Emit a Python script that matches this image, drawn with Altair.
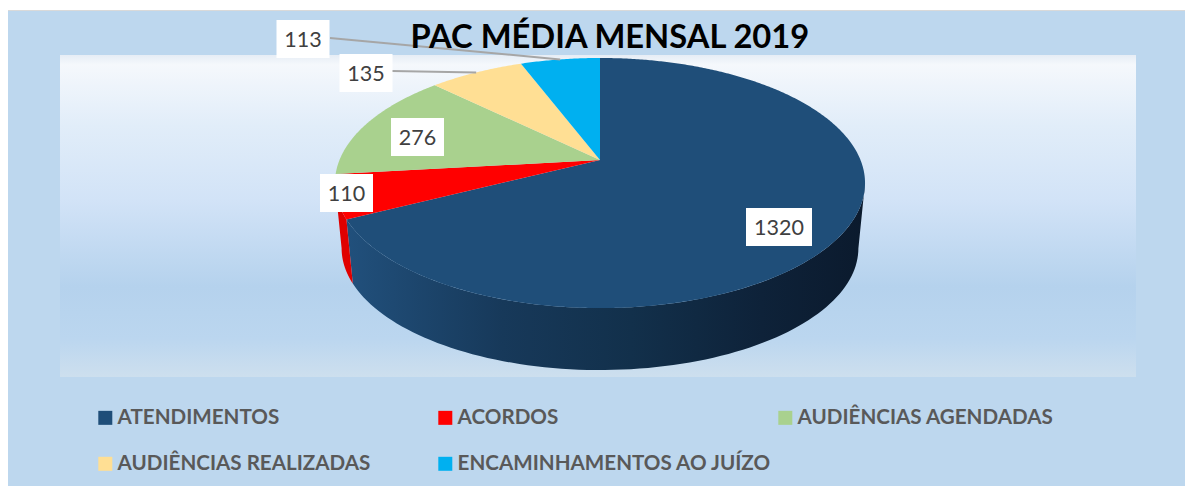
import numpy as np
import pandas as pd
import altair as alt

# ---- chart values
categories = ["ATENDIMENTOS", "ACORDOS", "AUDIÊNCIAS AGENDADAS", "AUDIÊNCIAS REALIZADAS", "ENCAMINHAMENTOS AO JUÍZO"]
values = [1320, 110, 276, 135, 113]
colors = ["#1f4e79", "#ff0000", "#a9d18e", "#ffdf94", "#00b0f0"]
legend_order = [0, 3, 1, 4, 2]      # the legend fills column by column
title_text = "PAC MÉDIA MENSAL 2019"

# ---- layout (page pixels)
RIGHT = 1185
CX, CY = 600, 160
AX, BY, K = 260.5, 120.8, 0.184     # pie perspective
SHRINK, DEPTH = 0.975, 65.7         # lower rim of the pie
label_x = [779, 346.5, 417.5, 366, 303]
label_y = [227, 193, 137, 73, 39]
label_w = [66, 53, 53, 53, 53]
label_h = 38
leader_from_x = [None, None, None, 392, 330]
leader_from_y = [None, None, None, 71, 38]


def project(theta, lower=False):
    t = np.radians(theta)
    X, Y = np.sin(t), np.cos(t)
    px, py = AX * X / (1 + K * Y), -BY * Y / (1 + K * Y)
    if lower:
        return CX + SHRINK * px, CY + SHRINK * py + DEPTH
    return CX + px, CY + py


total = sum(values)
ends = np.cumsum(values) / total * 360
starts = np.r_[0, ends[:-1]]

# top face
rows = []
for c, a, b in zip(categories, starts, ends):
    rows.append({"serie": c, "seq": -1, "px": CX, "py": CY})
    for i, th in enumerate(np.linspace(a, b, max(int(b - a), 2) * 2 + 1)):
        x, y = project(th)
        rows.append({"serie": c, "seq": i, "px": x, "py": y})
top_df = pd.DataFrame(rows)

# visible outer wall between the two silhouette angles
th_r = np.degrees(np.arccos(-K))
th_l = 360 - th_r


def wall(a, b):
    a, b = max(a, th_r), min(b, th_l)
    ths = np.linspace(a, b, 90)
    up = [project(t) for t in ths]
    lo = [project(t, True) for t in ths[::-1]]
    pts = up + lo
    return pd.DataFrame({"seq": range(len(pts)), "px": [p[0] for p in pts], "py": [p[1] for p in pts]})


wall_navy = wall(starts[0], ends[0])
wall_red = wall(starts[1], ends[1])

x_s = alt.Scale(domain=[8, RIGHT], range=[0, RIGHT - 8])
y_s = alt.Scale(domain=[8, 486], range=[0, 478])
X = alt.X("px:Q", scale=x_s, axis=None)
Y = alt.Y("py:Q", scale=y_s, axis=None)

# panels behind the pie
panel = pd.DataFrame({"x": [8, 8, 60], "x2": [RIGHT, RIGHT, 1136], "y": [10, 11, 55], "y2": [486, 486, 377],
                      "k": ["a", "b", "c"]})
enc = dict(x=alt.X("x:Q", scale=x_s, axis=None), x2="x2:Q", y=alt.Y("y:Q", scale=y_s, axis=None), y2="y2:Q")
border = alt.Chart(panel[panel.k == "a"]).mark_rect(color="#d9d9d9").encode(**enc)
paper = alt.Chart(panel[panel.k == "b"]).mark_rect(color="#bdd7ee").encode(**enc)
stops = [(0, "#e6edf5"), (0.03, "#f5f8fc"), (0.22, "#e1edf9"), (0.45, "#d2e3f7"),
         (0.72, "#b5d2ed"), (0.88, "#bbd6ef"), (1, "#cddfee")]
inner = alt.Chart(panel[panel.k == "c"]).mark_rect(
    fill={"gradient": "linear", "x1": 0, "y1": 0, "x2": 0, "y2": 1,
          "stops": [{"offset": o, "color": c} for o, c in stops]}
).encode(**enc)

side_stops = [(0, "#21507c"), (0.3, "#17395a"), (0.55, "#12304b"), (0.8, "#0e2239"), (1, "#0b1a2d")]
side_navy = alt.Chart(wall_navy).mark_line(
    interpolate="linear-closed", strokeWidth=0,
    fill={"gradient": "linear", "x1": 0, "y1": 0, "x2": 1, "y2": 0,
          "stops": [{"offset": o, "color": c} for o, c in side_stops]}
).encode(x=X, y=Y, order="seq:Q")
side_red = alt.Chart(wall_red).mark_line(interpolate="linear-closed", strokeWidth=0, fill="#e00000").encode(
    x=X, y=Y, order="seq:Q")

faces = alt.Chart(top_df).mark_line(interpolate="linear-closed", filled=True, strokeWidth=0).encode(
    x=X, y=Y, order="seq:Q",
    color=alt.Color("serie:N", sort=[categories[i] for i in legend_order],
                    scale=alt.Scale(domain=[categories[i] for i in legend_order],
                                    range=[colors[i] for i in legend_order]),
                    legend=alt.Legend(title=None, orient="none", legendX=87, legendY=399.5, columns=3,
                                      gridAlign="all", symbolType="square", symbolSize=196,
                                      symbolStrokeWidth=0, labelFont="Lato", labelFontWeight="bold",
                                      labelFontSize=20.6, labelColor="#595959", labelOffset=2,
                                      labelLimit=400, rowPadding=25, columnPadding=3)),
)

# leader lines run from the label to the middle of the slice's rim
lead_rows = []
for i, c in enumerate(categories):
    if leader_from_x[i] is not None:
        ex, ey = project((starts[i] + ends[i]) / 2)
        lead_rows.append({"px": leader_from_x[i], "py": leader_from_y[i], "ex": ex, "ey": ey})
leaders = alt.Chart(pd.DataFrame(lead_rows)).mark_rule(color="#a6a6a6", strokeWidth=2).encode(
    x=X, y=Y, x2="ex:Q", y2="ey:Q")

lab = pd.DataFrame({"v": values, "px": label_x, "py": label_y, "w": label_w})
lab["x0"] = lab.px - lab.w / 2
lab["x1"] = lab.px + lab.w / 2
lab["y0"] = lab.py - label_h / 2
lab["y1"] = lab.py + label_h / 2
boxes = alt.Chart(lab).mark_rect(color="white").encode(
    x=alt.X("x0:Q", scale=x_s, axis=None), x2="x1:Q",
    y=alt.Y("y0:Q", scale=y_s, axis=None), y2="y1:Q")
texts = alt.Chart(lab).mark_text(font="Lato", fontSize=21.5, color="#404040", baseline="middle", dy=2).encode(
    x=X, y=Y, text="v:Q")

chart = alt.layer(border, paper, inner, side_navy, side_red, faces, leaders, boxes, texts).properties(
    width=RIGHT - 8, height=478, padding=0,
    autosize=alt.AutoSizeParams(type="none"),
    title=alt.TitleParams(title_text, font="Lato", fontSize=32.7, fontWeight="bold", color="#000000",
                          anchor="start", frame="group", offset=-47, dx=402.5, baseline="top"),
).configure_view(strokeWidth=0).resolve_scale(x="shared", y="shared")

chart.save("out.html", embed_options={"renderer": "svg", "actions": False})
